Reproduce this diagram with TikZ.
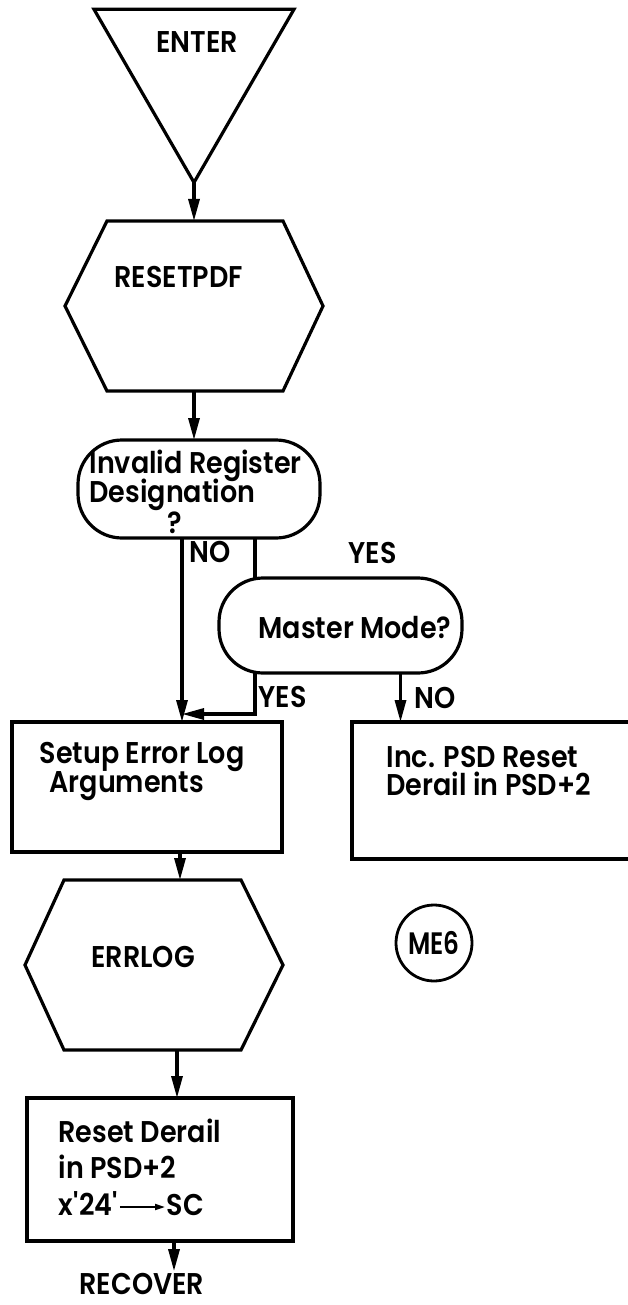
\documentclass[tikz,border=0pt]{standalone}
\usepackage{fontspec}
\setmainfont{Poppins}[UprightFont=* SemiBold, FakeStretch=0.9]
\usetikzlibrary{arrows.meta,shapes.geometric,calc}

\begin{document}
\begin{tikzpicture}[x=1pt,y=-1pt,
  line width=3.2pt,
  every node/.style={inner sep=0pt},
  box/.style={draw, rectangle, outer sep=0pt},
  hexcore/.style={rectangle, outer sep=0pt},
  dec/.style={draw, rectangle, rounded corners=44pt, outer sep=0pt},
  txt/.style={anchor=base west, font=\fontsize{30}{32}\selectfont},
  arr/.style={-{Triangle[length=22pt,width=11pt]}},
  thinarr/.style={line width=1.8pt, -{Triangle[length=10pt,width=6pt]}},
]
\useasboundingbox (0,0) rectangle (628,1305);
\clip (0,0) rectangle (628,1305);

% entry triangle
\node[draw, regular polygon, regular polygon sides=3, shape border rotate=180,
      minimum size=231pt, outer sep=0pt] (enter) at (194,67) {};
\node[txt] at (155,53) {ENTER};

% RESETPDF hexagon
\node[hexcore, minimum width=176pt, minimum height=170pt] (reset) at (195,306) {};
\draw (reset.north west) -- (reset.north east) -- ($(reset.east)+(40,0)$)
      -- (reset.south east) -- (reset.south west) -- ($(reset.west)+(-42,0)$) -- cycle;
\node[txt] at (113,288) {RESETPDF};

% first decision
\node[dec, minimum width=242pt, minimum height=98pt] (dec1) at (199,489) {};
\node[txt] at (88,473) {Invalid Register};
\node[txt] at (88,502) {Designation};
\node[txt] at (166,533) {?};

% second decision
\node[dec, minimum width=243pt, minimum height=95pt] (master) at (340.5,625.5) {};
\node[txt] at (257,638) {Master Mode?};

% process boxes
\node[box, minimum width=270pt, minimum height=130pt] (setup) at (147,787) {};
\node[txt] at (38,763) {Setup Error Log};
\node[txt] at (48,792) {Arguments};

\node[box, minimum width=300pt, minimum height=137pt] (inc) at (502,790.5) {};
\node[txt] at (385,767) {Inc. PSD Reset};
\node[txt] at (385,795) {Derail in PSD+2};

% ERRLOG hexagon
\node[hexcore, minimum width=177pt, minimum height=170pt] (errlog) at (152.5,965) {};
\draw (errlog.north west) -- (errlog.north east) -- ($(errlog.east)+(42,0)$)
      -- (errlog.south east) -- (errlog.south west) -- ($(errlog.west)+(-39,0)$) -- cycle;
\node[txt] at (90,967) {ERRLOG};

% final box
\node[box, minimum width=266pt, minimum height=143pt] (rst) at (160,1169.5) {};
\node[txt] at (57,1142) {Reset Derail};
\node[txt] at (57,1178) {in PSD+2};
\node[txt] (x24) at (57,1215) {x\textquotesingle 24\textquotesingle};
\node[txt] (sc) at (165,1215) {SC};
\draw[thinarr] ([yshift=8pt]x24.base east) -- ([yshift=8pt]sc.base west);

\node[txt] (recover) at (78,1294) {RECOVER};

% off-page connector
\node[draw, circle, minimum size=76pt, line width=2.8pt,
      font=\fontsize{31}{32}\selectfont\addfontfeature{FakeStretch=0.8}] (me6) at (434,943) {ME6};

% branch labels
\node[txt] at (188,562) {NO};
\node[txt] at (347,563) {YES};
\node[txt] at (257,707) {YES};
\node[txt] at (413,708) {NO};

% connectors
\coordinate (join) at (182,714);
\coordinate (ym) at ($(master.north west)+(36,0)$);
\coordinate (yb) at ($(master.south west)+(36,0)$);
\coordinate (nb) at ($(master.south)+(60,0)$);
\coordinate (a1) at ($(setup.south)+(33,0)$);
\coordinate (a2) at ($(errlog.south)+(24.5,0)$);
\coordinate (a3) at ($(rst.south)+(14,0)$);

\draw[arr] (enter.corner 1) -- (enter.corner 1 |- reset.north);
\draw[arr] (enter.corner 1 |- reset.south) -- (enter.corner 1 |- dec1.north);
\draw[arr] (dec1.south -| join) -- (join |- setup.north);
\draw (dec1.south -| ym) -- (ym);
\draw[arr] (yb) |- (join);
\draw[arr] (nb) -- (nb |- inc.north);
\draw[arr] (a1) -- (a1 |- errlog.north);
\draw[arr] (a2) -- (a2 |- rst.north);
\draw[arr] (a3) -- (a3 |- recover.north);
\end{tikzpicture}
\end{document}
